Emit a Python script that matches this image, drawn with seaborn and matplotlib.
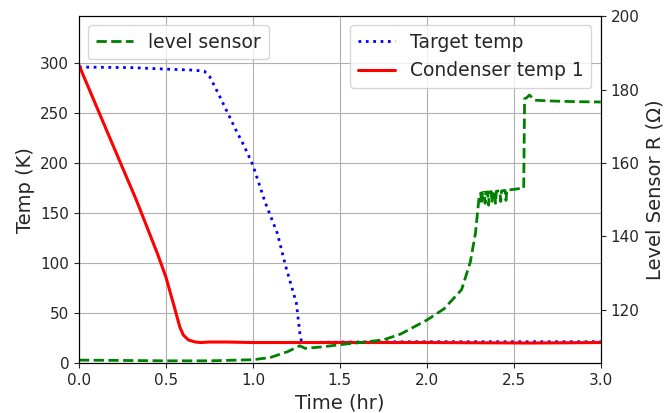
import numpy as np
import pandas as pd
import matplotlib
matplotlib.use("Agg")
import matplotlib.pyplot as plt
import seaborn as sns

# Condenser temp 1 (K)
cond_t = [0.0, 0.1, 0.2, 0.33, 0.45, 0.5, 0.55, 0.58, 0.6, 0.63, 0.67, 0.7, 0.75,
          0.85, 1.0, 1.5, 2.0, 2.6, 3.0]
cond_T = [298, 257, 216, 163, 110, 86, 55, 36, 28, 23, 21, 20.5, 21,
          21, 20.5, 20.5, 20.5, 20, 20.5]

# Target temp (K)
targ_t = [0.0, 0.3, 0.5, 0.65, 0.72, 0.75, 0.8, 0.85, 0.9, 0.95, 1.0, 1.07,
          1.14, 1.19, 1.25, 1.27, 1.28, 1.5, 2.0, 2.5, 3.0]
targ_T = [296, 295.5, 294, 293, 292, 287, 270, 252, 234, 217, 198, 161,
          130, 96, 60, 30, 20.5, 21, 21.3, 21.3, 21.3]

# level sensor resistance (Ohm)
lvl_t = [0.0, 0.5, 0.75, 1.0, 1.1, 1.2, 1.27, 1.3, 1.4, 1.5, 1.6, 1.75, 1.85,
         2.0, 2.1, 2.2, 2.25, 2.28, 2.3,
         2.31, 2.315, 2.32, 2.33, 2.335, 2.34, 2.35, 2.355, 2.36, 2.37, 2.375,
         2.38, 2.39, 2.395, 2.40, 2.42, 2.425, 2.43, 2.45, 2.455, 2.46, 2.48,
         2.50, 2.53, 2.557, 2.562, 2.575, 2.59, 2.62, 2.7, 2.85, 3.0]
lvl_R = [106.3, 106.1, 106.1, 106.4, 107.0, 108.6, 110.2, 109.5, 109.9, 110.5,
         111.0, 111.8, 113.4, 117.2, 120.3, 125.5, 133.0, 141.0, 150.5,
         151.8, 148.8, 151.9, 152.0, 149.0, 152.0, 152.1, 148.5, 152.1, 152.2,
         149.2, 152.2, 152.3, 149.0, 152.3, 152.4, 149.5, 152.4, 152.5, 149.8,
         152.6, 152.7, 152.8, 153.0, 153.1, 177.5, 177.8, 178.5, 177.1, 176.9,
         176.7, 176.6]

sns.set_style("ticks")
plt.rcParams["font.family"] = ["DejaVu Sans"]

fig, ax1 = plt.subplots(figsize=(6.69, 4.13), dpi=100)
fig.subplots_adjust(left=0.118, right=0.898, top=0.961, bottom=0.121)

sns.lineplot(x=targ_t, y=targ_T, ax=ax1, color="blue", linestyle=":", lw=2,
             label="Target temp", sort=False)
sns.lineplot(x=cond_t, y=cond_T, ax=ax1, color="red", linestyle="-", lw=2.2,
             label="Condenser temp 1", sort=False)
ax1.set_xlim(0, 3.0)
ax1.set_ylim(0, 347)
ax1.set_xlabel("Time (hr)", fontsize=14)
ax1.set_ylabel("Temp (K)", fontsize=14)
ax1.tick_params(labelsize=11)
ax1.grid(True, color="#b0b0b0", lw=0.8)
ax1.legend(loc="upper right", fontsize=13.5, framealpha=0.8)

ax2 = ax1.twinx()
sns.lineplot(x=lvl_t, y=lvl_R, ax=ax2, color="green", linestyle="--", lw=2,
             label="level sensor", sort=False)
ax2.set_ylim(105.5, 200)
ax2.set_yticks([120, 140, 160, 180, 200])
ax2.set_ylabel("Level Sensor R (\u03a9)", fontsize=14)
ax2.tick_params(labelsize=11)
ax2.legend(loc="upper left", fontsize=13.5, framealpha=0.8)

for a in (ax1, ax2):
    for s in a.spines.values():
        s.set_color("black")

fig.savefig("out.png", dpi=100)
